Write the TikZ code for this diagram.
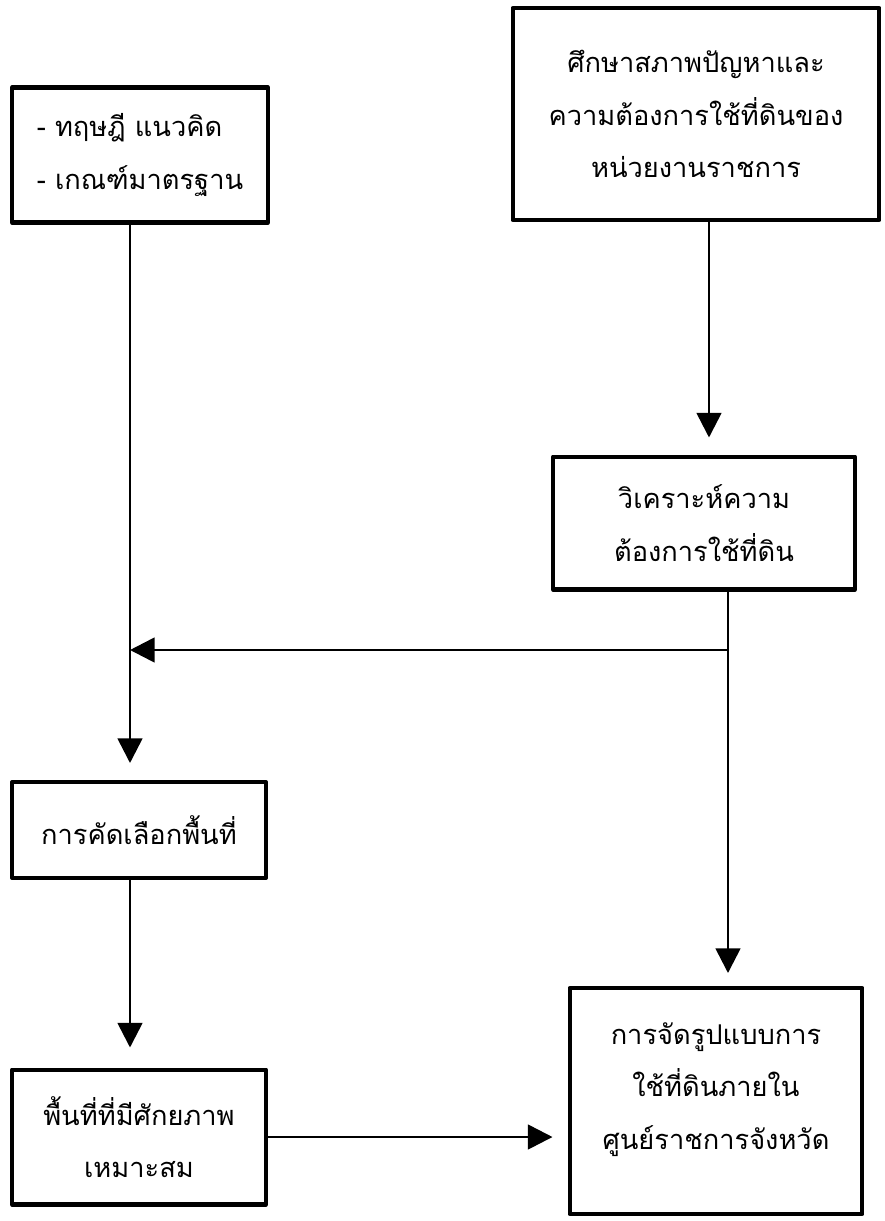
\documentclass[tikz,border=0pt]{standalone}
\usepackage{fontspec}
\newfontfamily\thaifont[Script=Thai]{Loma}
\usetikzlibrary{arrows.meta}
\begin{document}
\begin{tikzpicture}[x=0.02cm, y=-0.02cm, line join=round, >={Triangle[length=14pt, width=14pt]}, font=\thaifont\fontsize{15.5}{30}\selectfont]
	\tikzset{box/.style={draw, line width=2.3pt, align=center, inner sep=0pt},
		link/.style={line width=1.5pt}}
	\def\xl{130}
	\def\xr{728}
	\useasboundingbox (0,0) rectangle (885,1221);
	% Các khung
	\node[box, minimum width=5.12cm, minimum height=2.7cm, align=left] (theory) at (140,155) {- ทฤษฎี แนวคิด\\- เกณฑ์มาตรฐาน};
	\node[box, minimum width=7.34cm, minimum height=4.24cm] (study) at (696,114) {ศึกษาสภาพปัญหาและ\\ความต้องการใช้ที่ดินของ\\หน่วยงานราชการ};
	\node[box, minimum width=6.04cm, minimum height=2.66cm] (analyse) at (704,523) {วิเคราะห์ความ\\ต้องการใช้ที่ดิน};
	\node[box, minimum width=5.08cm, minimum height=1.92cm] (select) at (139,830) {การคัดเลือกพื้นที่};
	\node[box, minimum width=5.08cm, minimum height=2.7cm] (site) at (139,1137) {พื้นที่ที่มีศักยภาพ\\เหมาะสม};
	\node[box, minimum width=5.86cm, minimum height=4.52cm] (plan) at (716,1101) {การจัดรูปแบบการ\\ใช้ที่ดินภายใน\\ศูนย์ราชการจังหวัด\\[-0.45cm]};
	\coordinate (split) at (\xr,650);
	% Các mũi tên
	\draw[link, ->, shorten >=0.34cm] (study.south -| 709,0) -- (analyse.north -| 709,0);
	\draw[link, ->, shorten >=0.34cm] (theory.south -| \xl,0) -- (select.north -| \xl,0);
	\draw[link, ->, shorten >=0.26cm] (analyse.south -| split) -- (plan.north -| split);
	\draw[link, ->] (split) -- (split -| \xl,0);
	\draw[link, ->, shorten >=0.4cm] (select.south -| \xl,0) -- (site.north -| \xl,0);
	\draw[link, ->, shorten >=0.3cm] (site.east) -- (site.east -| plan.west);
\end{tikzpicture}
\end{document}
